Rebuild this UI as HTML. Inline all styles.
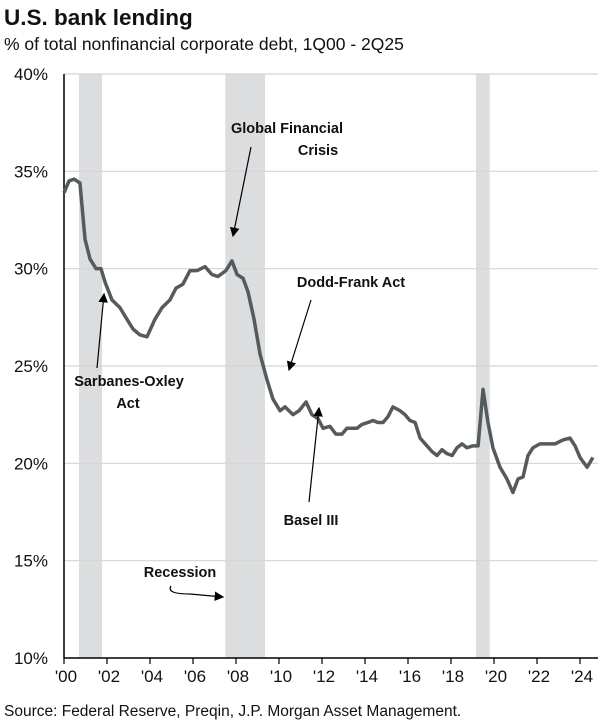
<!DOCTYPE html>
<html><head><meta charset="utf-8"><style>
body{margin:0;background:#fff;font-family:"Liberation Sans",Arial,sans-serif;}
svg text{font-family:"Liberation Sans",Arial,sans-serif;}
</style></head><body>
<svg id="c" width="608" height="720">
<text x="4" y="25" font-size="22.5" font-weight="bold" fill="#111">U.S. bank lending</text>
<text x="4" y="50" font-size="17.5" fill="#111">% of total nonfinancial corporate debt, 1Q00 - 2Q25</text>
<text x="4" y="716" font-size="15.5" fill="#111">Source: Federal Reserve, Preqin, J.P. Morgan Asset Management.</text>
<g id="bands"></g><g id="grid"></g><g id="axes"></g><g id="series"></g>
<defs><marker id="ah" markerWidth="8" markerHeight="8" refX="7" refY="4" orient="auto"><path d="M0,0 L8,4 L0,8 z" fill="#000"/></marker></defs>
<g font-size="14.5" font-weight="bold" fill="#111" text-anchor="middle">
<text x="287" y="133">Global Financial</text>
<text x="318" y="155">Crisis</text>
<line x1="251" y1="147" x2="233" y2="236" stroke="#000" stroke-width="1.2" marker-end="url(#ah)"/>
<text x="351" y="287">Dodd-Frank Act</text>
<line x1="311" y1="300" x2="289" y2="370" stroke="#000" stroke-width="1.2" marker-end="url(#ah)"/>
<text x="129" y="386">Sarbanes-Oxley</text>
<text x="128" y="408">Act</text>
<line x1="97" y1="368" x2="104" y2="294" stroke="#000" stroke-width="1.2" marker-end="url(#ah)"/>
<text x="311" y="525">Basel III</text>
<line x1="309" y1="502" x2="319" y2="408" stroke="#000" stroke-width="1.2" marker-end="url(#ah)"/>
<text x="180" y="577">Recession</text>
<path d="M171,586 Q166,594 190,594 L223,597" fill="none" stroke="#000" stroke-width="1.2" marker-end="url(#ah)"/>
</g>
</svg>
<script>
const years=[2000.0,2000.23,2000.47,2000.74,2000.98,2001.21,2001.49,2001.72,2001.91,2002.23,2002.6,2002.93,2003.21,2003.53,2003.86,2004.23,2004.56,2004.93,2005.21,2005.53,2005.86,2006.19,2006.56,2006.88,2007.16,2007.53,2007.81,2008.05,2008.33,2008.56,2008.84,2009.12,2009.44,2009.72,2010.05,2010.28,2010.65,2010.93,2011.26,2011.53,2011.81,2012.05,2012.37,2012.65,2012.93,2013.16,2013.63,2013.86,2014.14,2014.37,2014.6,2014.84,2015.07,2015.3,2015.63,2015.86,2016.09,2016.33,2016.56,2016.88,2017.12,2017.35,2017.58,2017.81,2018.05,2018.28,2018.51,2018.74,2019.02,2019.26,2019.49,2019.72,2019.95,2020.28,2020.6,2020.88,2021.12,2021.35,2021.58,2021.81,2022.14,2022.47,2022.84,2023.21,2023.53,2023.77,2024.0,2024.33,2024.6];
const values=[33.9,34.5,34.6,34.4,31.5,30.5,30.0,30.0,29.3,28.4,28.0,27.4,26.9,26.6,26.5,27.4,28.0,28.4,29.0,29.2,29.9,29.9,30.1,29.7,29.6,29.9,30.4,29.7,29.5,28.8,27.4,25.6,24.3,23.3,22.7,22.9,22.5,22.7,23.15,22.5,22.3,21.8,21.9,21.5,21.5,21.8,21.8,22.0,22.1,22.2,22.1,22.1,22.4,22.9,22.7,22.5,22.2,22.1,21.3,20.9,20.6,20.4,20.7,20.5,20.4,20.8,21.0,20.8,20.9,20.9,23.8,22.1,20.8,19.8,19.2,18.5,19.2,19.3,20.4,20.8,21.0,21.0,21.0,21.2,21.3,20.9,20.3,19.8,20.3];
const recStart=[2000.7,2007.5,2019.16];
const recEnd=[2001.77,2009.35,2019.8];
const yTicks=[10,15,20,25,30,35,40];
const xTickYears=[2000,2002,2004,2006,2008,2010,2012,2014,2016,2018,2020,2022,2024];
const xTickLabels=["'00","'02","'04","'06","'08","'10","'12","'14","'16","'18","'20","'22","'24"];
const X0=64,X1=598,Y0=658,Y1=74;
const x=v=>X0+(v-2000)*21.5;
const y=v=>Y0-(v-10)/30*(Y0-Y1);
const NS="http://www.w3.org/2000/svg";
function mk(tag,attrs,parent){const e=document.createElementNS(NS,tag);for(const k in attrs)e.setAttribute(k,attrs[k]);document.getElementById(parent).appendChild(e);return e;}
recStart.forEach((s,i)=>{
 const r=mk('rect',{x:x(s),y:Y1,width:x(recEnd[i])-x(s),height:Y0-Y1,fill:'#dcdddf'},'bands');
 
 
});
yTicks.forEach(t=>{
 if(t>10){const l=mk('line',{x1:X0,x2:X1,y1:y(t),y2:y(t),stroke:'#d4d4d4','stroke-width':1.2},'grid');
 
 }
 const tx=mk('text',{x:48,y:y(t)+6,'font-size':17,'text-anchor':'end',fill:'#111'},'axes');
 tx.textContent=t+'%';
 
 
});
const ax=mk('line',{x1:X0,x2:X0,y1:Y1,y2:Y0,stroke:'#000','stroke-width':1.5},'axes');


const bx=mk('line',{x1:X0,x2:X1,y1:Y0,y2:Y0,stroke:'#000','stroke-width':1.5},'axes');


xTickYears.forEach((yr,i)=>{
 const t=mk('line',{x1:x(yr),x2:x(yr),y1:Y0,y2:Y0+6,stroke:'#000','stroke-width':1.2},'axes');
 
 
 const tx=mk('text',{x:x(yr)+2,y:Y0+24,'font-size':17,'text-anchor':'middle',fill:'#111'},'axes');
 tx.textContent=xTickLabels[i];
 
 
});
const p=mk('polyline',{points:years.map((yr,i)=>x(yr)+','+y(values[i])).join(' '),fill:'none',stroke:'#555a5c','stroke-width':3.5,'stroke-linejoin':'round'},'series');


</script>
</body></html>
